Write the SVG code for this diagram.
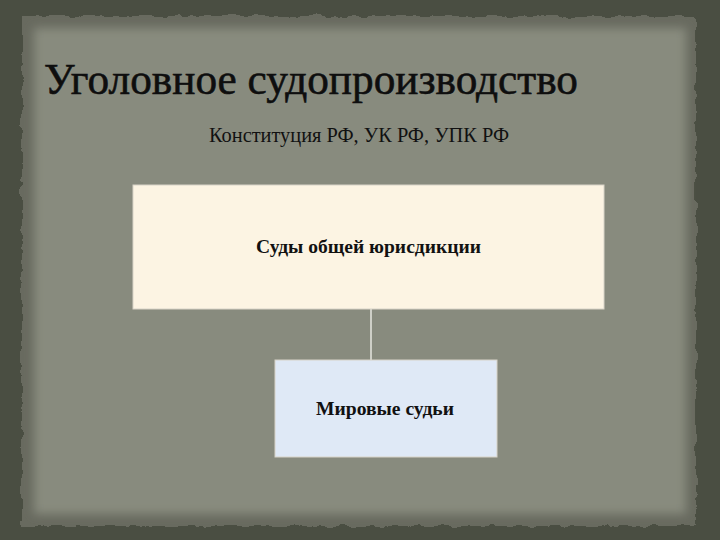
<svg xmlns="http://www.w3.org/2000/svg" width="720" height="540" viewBox="0 0 720 540">
  <defs>
    <style>
      .title { font-family: "Liberation Serif", "DejaVu Serif", serif; font-size: 44px; fill: #0e0e0e; stroke: #0e0e0e; stroke-width: 0.6; }
      .sub { font-family: "Liberation Serif", "DejaVu Serif", serif; font-size: 20px; fill: #111; }
      .lbl { font-family: "Liberation Serif", "DejaVu Serif", serif; font-size: 19px; font-weight: bold; fill: #111; text-anchor: middle; }
      .box { stroke: #d8d4c8; stroke-width: 1; }
      .conn { stroke: #e6e6e0; stroke-width: 1.5; fill: none; }
    </style>
    <filter id="rough" x="-5%" y="-5%" width="110%" height="110%">
      <feTurbulence type="fractalNoise" baseFrequency="0.08" numOctaves="3" seed="4" result="n"/>
      <feDisplacementMap in="SourceGraphic" in2="n" scale="8" xChannelSelector="R" yChannelSelector="G"/>
    </filter>
    <filter id="soft" x="-5%" y="-5%" width="110%" height="110%">
      <feGaussianBlur stdDeviation="5"/>
    </filter>
  </defs>
  <rect x="0" y="0" width="720" height="540" fill="#4a4e42"/>
  <g id="paper">
    <rect x="22" y="16" width="674" height="510" fill="#676b5e" filter="url(#rough)"/>
    <rect x="34" y="28" width="652" height="486" fill="#888b7e" filter="url(#soft)"/>
  </g>
  <text class="title" x="44" y="94" textLength="534" lengthAdjust="spacingAndGlyphs">Уголовное судопроизводство</text>
  <text class="sub" x="209" y="142" textLength="300" lengthAdjust="spacingAndGlyphs">Конституция РФ, УК РФ, УПК РФ</text>
  <g id="connectors">
    <line class="conn" x1="371" y1="309" x2="371" y2="360"/>
  </g>
  <g id="node-general">
    <rect class="box" x="133" y="185" width="471" height="124" fill="#fcf4e3"/>
    <text class="lbl" x="368.5" y="253" textLength="225" lengthAdjust="spacingAndGlyphs">Суды общей юрисдикции</text>
  </g>
  <g id="node-magistrates">
    <rect class="box" x="275" y="360" width="222" height="97" fill="#dfe9f6"/>
    <text class="lbl" x="385" y="415" textLength="138" lengthAdjust="spacingAndGlyphs">Мировые судьи</text>
  </g>
</svg>
